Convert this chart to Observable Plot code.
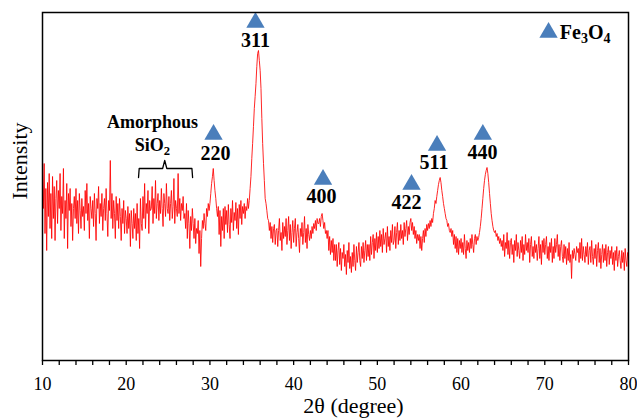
<!DOCTYPE html>
<html>
<head>
<meta charset="utf-8">
<script src="https://cdn.jsdelivr.net/npm/d3@7"></script>
<script src="https://cdn.jsdelivr.net/npm/@observablehq/plot@0.6"></script>
<style>
  html, body { margin: 0; padding: 0; background: #fff; }
  #chart { width: 637px; height: 419px; overflow: hidden; }
</style>
</head>
<body>
<div id="chart"></div>
<script>
// ---- XRD scan: 2θ from 10° to 80°, step 0.1° (arbitrary intensity units) ----
const scanStart = 10;
const scanStep = 0.1;
const intensity = [
  /*10*/ 188,150,195,125,170,108,176,142,185,130,
  /*11*/ 165,120,182,140,172,118,160,178,135,168,
  /*12*/ 150,185,128,162,145,190,120,158,140,175,
  /*13*/ 110,165,148,170,132,155,118,150,162,140,
  /*14*/ 170,135,158,125,165,148,130,160,142,152,
  /*15*/ 128,168,145,175,138,155,120,162,150,140,
  /*16*/ 158,132,165,145,118,160,150,172,135,155,
  /*17*/ 142,165,128,150,160,138,170,145,122,158,
  /*18*/ 148,198,140,165,130,158,145,120,162,138,
  /*19*/ 155,130,160,142,118,150,135,158,125,148,
  /*20*/ 140,125,152,130,145,112,148,135,120,150,
  /*21*/ 130,145,118,155,125,140,110,160,135,128,
  /*22*/ 162,140,175,130,155,145,168,125,158,148,
  /*23*/ 150,172,135,160,145,178,140,155,165,138,
  /*24*/ 158,145,170,150,132,165,155,142,175,150,
  /*25*/ 145,162,138,155,168,140,152,180,135,158,
  /*26*/ 150,142,185,145,160,138,155,148,162,140,
  /*27*/ 145,130,155,120,148,135,110,142,128,150,
  /*28*/ 135,120,140,115,130,125,138,105,128,92,
  /*29*/ 120,138,130,145,135,128,150,142,155,148,
  /*30*/ 155,165,175,182,190,178,168,160,150,142,
  /*31*/ 152,124,148,112,142,128,150,120,152,134,
  /*32*/ 148,126,154,134,120,150,136,158,128,146,
  /*33*/ 138,156,130,150,124,154,140,158,134,152,
  /*34*/ 145,155,140,152,148,160,150,158,170,182,
  /*35*/ 200,215,232,250,262,275,292,305,308,298,
  /*36*/ 288,270,240,215,195,178,160,155,148,140,
  /*37*/ 138,128,136,120,132,116,130,134,114,128,
  /*38*/ 130,112,128,140,118,126,108,136,120,132,
  /*39*/ 122,140,114,128,142,118,134,110,126,138,
  /*40*/ 116,130,140,112,126,134,120,106,130,122,
  /*41*/ 136,114,126,142,116,130,110,134,124,118,
  /*42*/ 128,120,132,125,135,130,138,128,140,135,
  /*43*/ 135,140,132,142,145,138,130,136,125,128,
  /*44*/ 120,128,108,122,104,118,106,120,98,114,
  /*45*/ 98,114,92,108,116,94,110,88,106,100,
  /*46*/ 114,92,104,84,108,96,116,90,102,86,
  /*47*/ 106,92,114,98,88,112,96,106,116,98,
  /*48*/ 92,112,100,116,96,108,118,98,114,102,
  /*49*/ 114,98,122,104,116,124,100,120,108,126,
  /*50*/ 106,122,110,128,112,124,106,130,114,120,
  /*51*/ 126,106,132,112,122,108,128,116,134,114,
  /*52*/ 118,132,110,126,136,114,128,118,134,120,
  /*53*/ 128,114,136,122,130,138,118,132,124,136,
  /*54*/ 140,128,136,124,132,120,128,115,124,118,
  /*55*/ 124,110,122,108,120,128,116,130,122,134,
  /*56*/ 128,135,130,138,132,140,136,145,150,158,
  /*57*/ 155,162,168,174,178,181,176,168,162,155,
  /*58*/ 150,145,140,138,132,135,128,126,130,122,
  /*59*/ 128,114,124,110,122,106,120,104,118,110,
  /*60*/ 120,106,116,104,124,110,100,118,108,116,
  /*61*/ 106,120,110,124,114,106,120,124,114,122,
  /*62*/ 118,121,126,132,140,150,160,170,178,184,
  /*63*/ 188,191,185,176,165,155,145,138,132,128,
  /*64*/ 126,128,122,125,118,122,115,120,112,118,
  /*65*/ 108,124,102,116,110,126,104,118,100,116,
  /*66*/ 120,104,114,96,118,108,124,102,116,108,
  /*67*/ 100,118,106,122,98,114,104,124,108,116,
  /*68*/ 106,120,96,114,122,102,112,100,118,106,
  /*69*/ 114,98,110,122,100,114,94,118,106,120,
  /*70*/ 104,114,122,100,112,98,116,106,120,96,
  /*71*/ 112,100,120,106,114,124,102,114,98,112,
  /*72*/ 118,102,96,114,100,112,94,110,98,116,
  /*73*/ 96,104,80,108,100,110,104,98,112,106,
  /*74*/ 110,96,116,100,120,98,112,104,96,112,
  /*75*/ 102,116,94,108,112,96,118,102,94,110,
  /*76*/ 100,114,92,108,116,96,110,90,104,114,
  /*77*/ 96,110,98,114,92,106,112,94,108,100,
  /*78*/ 112,94,106,88,108,98,112,92,102,108,
  /*79*/ 98,90,108,96,106,88,110,98,92,106,
  /*80*/ 102
];

// ---- Fe3O4 reflections (hkl), marker and label placement in data units ----
const peakHkl      = ["220", "311", "400", "422", "511", "440"];
const markerAngle  = [30.43, 35.44, 43.51, 54.08, 57.13, 62.60];
const markerLevel  = [224, 336, 179, 174, 213, 224];
const labelAngle   = [30.67, 35.44, 43.33, 53.48, 56.77, 62.56];
const labelLevel   = [205, 318, 162, 156, 196, 206];

// ---- Legend and amorphous annotation ----
const legendName = "Fe_3O_4";
const legendAngle = [70.45];
const legendLevel = [326];
const legendTextAngle = 71.8;
const amorphousLines = ["Amorphous", "SiO_2"];
const amorphousAngle = [23.14, 23.14];
const amorphousLevel = [236, 213];
const braceAngle = [21.47, 21.55, 24.35, 24.6, 24.85, 27.85, 27.93];
const braceLevel = [181, 190, 190, 198, 190, 190, 181];

// ---- Axis ticks ----
const xTicksMajor = [10, 20, 30, 40, 50, 60, 70, 80];
const xTicksMinor = [10,12,14,16,18,20,22,24,26,28,30,32,34,36,38,40,42,44,46,48,50,52,54,56,58,60,62,64,66,68,70,72,74,76,78,80];

const scan = intensity.map((v, i) => ({angle: scanStart + i * scanStep, value: v}));
const markers = peakHkl.map((h, i) => ({angle: markerAngle[i], level: markerLevel[i]}));
const labels = peakHkl.map((h, i) => ({angle: labelAngle[i], level: labelLevel[i], text: h}));
const brace = braceAngle.map((a, i) => ({angle: a, level: braceLevel[i]}));
const amorph = amorphousLines.map((t, i) => ({angle: amorphousAngle[i], level: amorphousLevel[i], text: t}));

const blue = "#4a7ebb";
const serif = "'Liberation Serif', 'Times New Roman', serif";

const chart = Plot.plot({
  width: 637,
  height: 419,
  marginLeft: 42,
  marginRight: 9,
  marginTop: 12,
  marginBottom: 59,
  x: {domain: [10, 80]},
  y: {domain: [-2, 346], axis: null},
  style: {fontFamily: serif, background: "#fff", color: "#000", overflow: "visible"},
  marks: [
    Plot.line(scan, {x: "angle", y: "value", stroke: "#ff0000", strokeWidth: 0.85}),
    Plot.dot(markers, {x: "angle", y: "level", symbol: "triangle", r: 6.8, fill: blue, stroke: "none"}),
    Plot.text(labels, {x: "angle", y: "level", text: "text", fontSize: 20, fontWeight: "bold", fill: "#000"}),
    Plot.dot(legendAngle.map((a, i) => ({angle: a, level: legendLevel[i]})), {x: "angle", y: "level", symbol: "triangle", r: 6.8, fill: blue, stroke: "none"}),
    Plot.text([{angle: legendTextAngle, level: legendLevel[0], text: legendName}], {x: "angle", y: "level", text: "text", textAnchor: "start", fontSize: 20, fontWeight: "bold", fill: "#000"}),
    Plot.text(amorph, {x: "angle", y: "level", text: "text", fontSize: 18, fontWeight: "bold", fill: "#000"}),
    Plot.line(brace, {x: "angle", y: "level", stroke: "#000", strokeWidth: 1.3, curve: "linear"}),
    Plot.frame({stroke: "#000", strokeWidth: 1.5}),
    Plot.axisX({ticks: xTicksMinor, tickSize: 5, text: null, label: null, stroke: "#000", strokeWidth: 1.3}),
    Plot.axisX({ticks: xTicksMajor, tickSize: 0, tickPadding: 17, label: null, fontSize: 18, fill: "#000"}),
    Plot.text(["Intensity"], {frameAnchor: "left", rotate: -90, dx: -23, dy: 13, fontSize: 22, fill: "#000"}),
    Plot.text(["2θ (degree)"], {frameAnchor: "bottom", dx: 18, dy: 52, fontSize: 22, fill: "#000"})
  ]
});

// render "_n" as subscripts (shift down for the digit, back up for the next run)
chart.querySelectorAll("text").forEach(t => {
  const s = t.textContent;
  if (!s.includes("_")) return;
  t.textContent = "";
  const ns = "http://www.w3.org/2000/svg";
  let pendingUp = false;
  s.split(/(_\d)/).forEach(part => {
    if (!part) return;
    const ts = document.createElementNS(ns, "tspan");
    if (part[0] === "_") {
      ts.textContent = part.slice(1);
      ts.setAttribute("dy", "0.3em");
      ts.setAttribute("font-size", "70%");
      pendingUp = true;
    } else {
      ts.textContent = part;
      if (pendingUp) { ts.setAttribute("dy", "-0.21em"); pendingUp = false; }
    }
    t.appendChild(ts);
  });
});

document.getElementById("chart").appendChild(chart);
</script>
</body>
</html>
